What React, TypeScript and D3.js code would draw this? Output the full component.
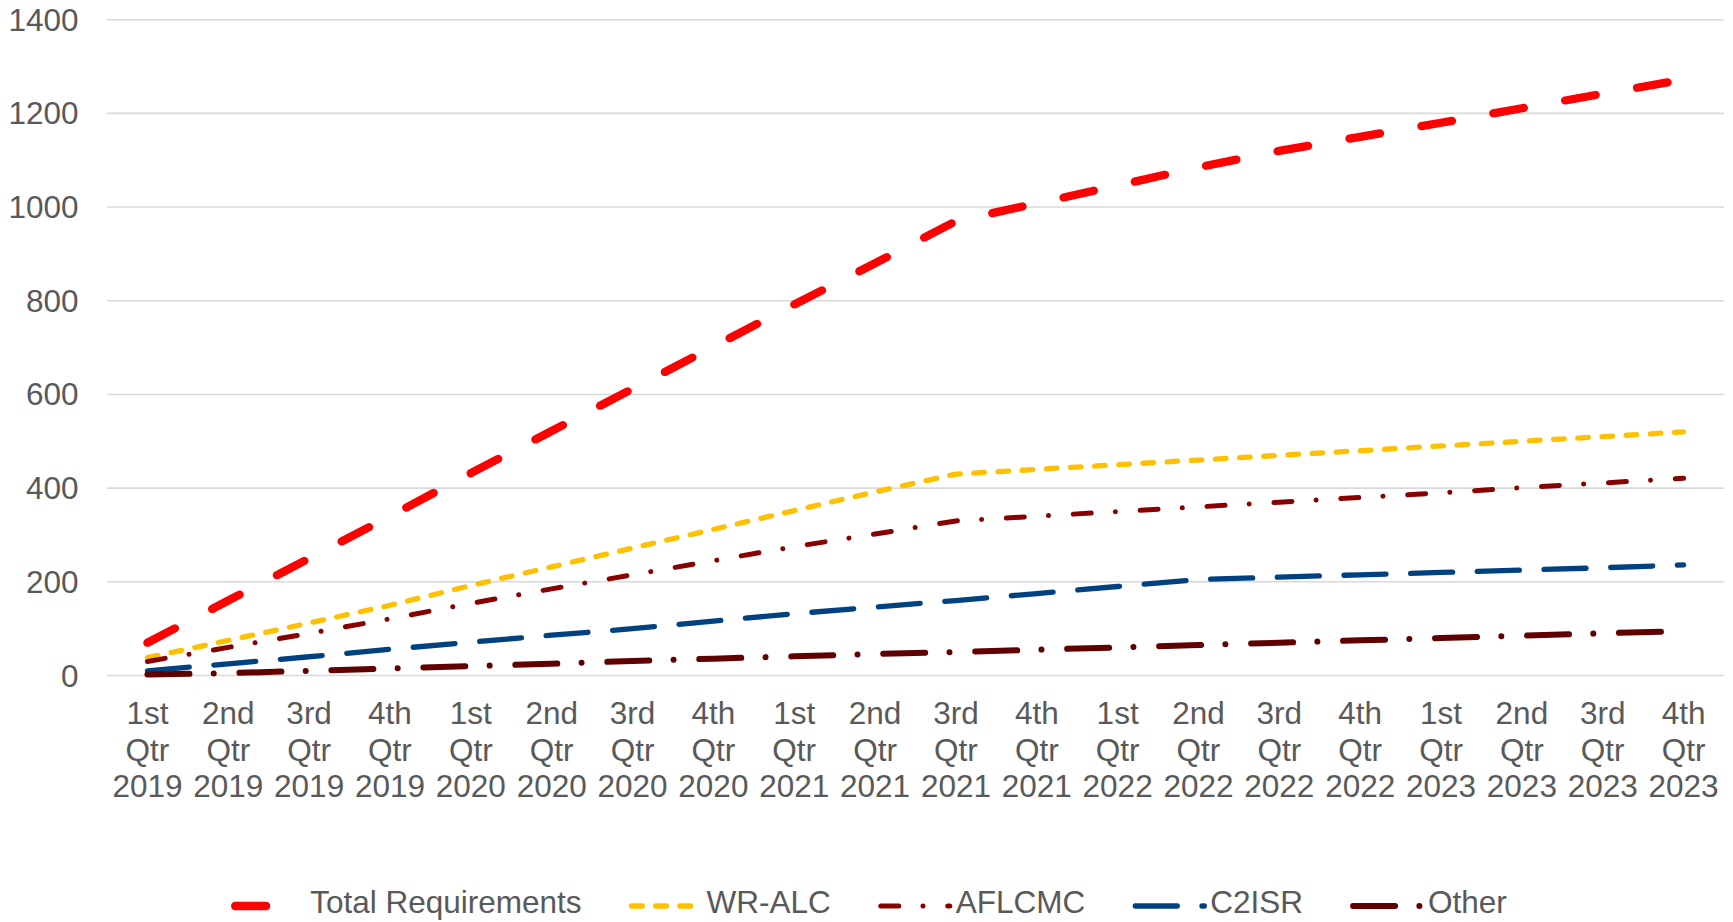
import { useMemo } from "react";
import * as d3 from "d3";

const categories = [
  "1st Qtr 2019", "2nd Qtr 2019", "3rd Qtr 2019", "4th Qtr 2019",
  "1st Qtr 2020", "2nd Qtr 2020", "3rd Qtr 2020", "4th Qtr 2020",
  "1st Qtr 2021", "2nd Qtr 2021", "3rd Qtr 2021", "4th Qtr 2021",
  "1st Qtr 2022", "2nd Qtr 2022", "3rd Qtr 2022", "4th Qtr 2022",
  "1st Qtr 2023", "2nd Qtr 2023", "3rd Qtr 2023", "4th Qtr 2023",
];

const totalRequirements = [70, 160, 250, 340, 432, 522, 612, 702, 792, 880, 970, 1008, 1046, 1085, 1120, 1150, 1180, 1211, 1242, 1272];
const wrAlc = [38, 75, 112, 150, 192, 232, 272, 312, 352, 392, 430, 440, 450, 460, 470, 480, 490, 500, 510, 520];
const aflcmc = [30, 60, 90, 121, 154, 185, 215, 245, 275, 302, 330, 340, 350, 360, 370, 380, 390, 401, 411, 421];
const c2isr = [10, 25, 40, 56, 71, 86, 100, 116, 132, 146, 160, 175, 190, 205, 210, 215, 220, 225, 230, 236];
const other = [2, 5, 10, 15, 20, 25, 31, 36, 41, 46, 50, 55, 60, 65, 70, 75, 80, 85, 90, 95];

const yTicks = [0, 200, 400, 600, 800, 1000, 1200, 1400];

const series = [
  { name: "Total Requirements", values: totalRequirements, color: "#FF0000", width: 8.3, dash: "31 42" },
  { name: "WR-ALC", values: wrAlc, color: "#FFC000", width: 5.3, dash: "10.7 13.5" },
  { name: "AFLCMC", values: aflcmc, color: "#880000", width: 5, dash: "18 24.2 0.01 24.8" },
  { name: "C2ISR", values: c2isr, color: "#00417F", width: 5.3, dash: "42 24.7" },
  { name: "Other", values: other, color: "#600000", width: 6, dash: "42 24.3 0.01 25.7" },
];

const W = 1733;
const H = 922;
const FONT = "'Liberation Sans', Arial, sans-serif";
const FS = 31.5;
const TEXT = "#595959";

function measure(text: string) {
  const ctx = document.createElement("canvas").getContext("2d");
  if (!ctx) return text.length * FS * 0.55;
  ctx.font = `${FS}px ${FONT}`;
  return ctx.measureText(text).width;
}

export default function App() {
  const x = d3.scaleBand<string>().domain(categories).range([107, 1724]);
  const y = d3.scaleLinear().domain([0, 1400]).range([675.5, 19.7]);
  const cx = (c: string) => (x(c) ?? 0) + x.bandwidth() / 2;

  const line = d3
    .line<number>()
    .x((_, i) => cx(categories[i]))
    .y((d) => y(d));

  // legend layout: sample line, then label, centred under the chart
  const legend = useMemo(() => {
    const sample = 69;
    const toText = 75;
    const gap = 50;
    const widths = series.map((s) => measure(s.name));
    const total = widths.reduce((a, w) => a + toText + w, 0) + gap * (series.length - 1);
    let pos = 869 - (total - 4) / 2;
    return series.map((s, i) => {
      const item = { ...s, x: pos, sample, textX: pos + toText };
      pos += toText + widths[i] + gap;
      return item;
    });
  }, []);

  return (
    <svg
      width={W}
      height={H}
      style={{ position: "absolute", left: 0, top: 0, background: "#fff" }}
      fontFamily={FONT}
    >
      <g>
        {yTicks.map((t) => (
          <line key={t} x1={107} x2={1724} y1={y(t)} y2={y(t)} stroke="#D9D9D9" strokeWidth={1.6} />
        ))}
        {yTicks.map((t) => (
          <text key={t} x={78.5} y={y(t)} dy="0.35em" textAnchor="end" fontSize={FS} fill={TEXT}>
            {t}
          </text>
        ))}
      </g>
      <g>
        {categories.map((c) => {
          const parts = c.split(" ");
          return (
            <text key={c} x={cx(c)} y={724} textAnchor="middle" fontSize={FS} fill={TEXT}>
              {parts.map((p, i) => (
                <tspan key={i} x={cx(c)} dy={i === 0 ? 0 : 36.5}>
                  {p}
                </tspan>
              ))}
            </text>
          );
        })}
      </g>
      <g fill="none" strokeLinecap="round" strokeLinejoin="round">
        {series.map((s) => (
          <path
            key={s.name}
            d={line(s.values) ?? ""}
            stroke={s.color}
            strokeWidth={s.width}
            strokeDasharray={s.dash}
          />
        ))}
      </g>
      <g>
        {legend.map((l) => (
          <g key={l.name}>
            <line
              x1={l.x}
              x2={l.x + l.sample}
              y1={906}
              y2={906}
              stroke={l.color}
              strokeWidth={l.width}
              strokeDasharray={l.dash}
              strokeLinecap="round"
            />
            <text x={l.textX} y={913} fontSize={FS} fill={TEXT}>
              {l.name}
            </text>
          </g>
        ))}
      </g>
    </svg>
  );
}
